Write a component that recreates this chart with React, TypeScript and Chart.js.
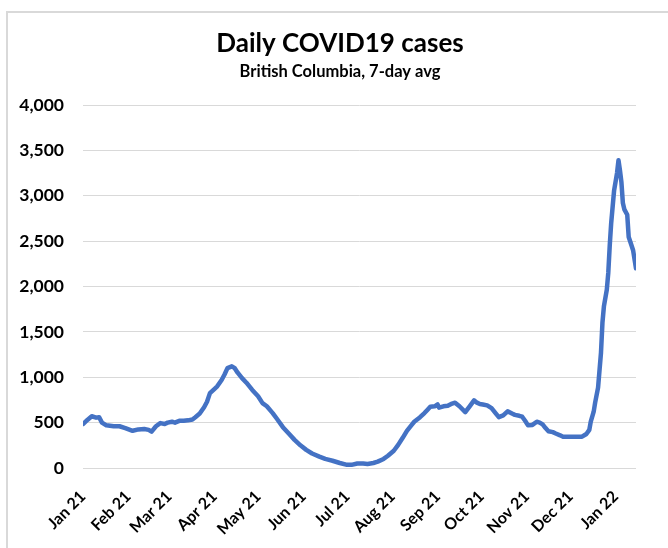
import React, { useEffect, useRef } from "react";
import { Chart, registerables } from "chart.js";

Chart.register(...registerables);

const TITLE = "Daily COVID19 cases";
const SUBTITLE = "British Columbia, 7-day avg";

// day index (0 = 1 Jan 2021)
const dayIndex = [
  0, 3, 6, 9, 11, 13, 16, 21, 25, 29, 34, 38, 42, 45, 47, 50, 53, 56, 58, 61, 63, 66, 69, 72, 75, 77, 80, 83, 85, 87,
  90, 92, 95, 97, 99, 102, 104, 106, 109, 112, 116, 120, 123, 126, 130, 133, 137, 141, 145, 149, 153, 157, 162, 166,
  171, 176, 181, 184, 188, 192, 195, 199, 202, 206, 209, 213, 216, 219, 222, 225, 227, 231, 234, 236, 238, 241, 243,
  244, 247, 250, 253, 255, 258, 262, 265, 268, 270, 272, 274, 277, 280, 283, 285, 288, 291, 294, 296, 299, 301, 303,
  305, 308, 311, 313, 315, 317, 319, 322, 324, 327, 329, 335, 342, 345, 347, 348, 350, 351, 353, 355, 356, 357, 359,
  360, 361, 362, 364, 366, 367, 368, 369, 370, 371, 373, 374, 376, 377, 379,
];

const dailyCases = [
  485, 530, 570, 555, 560, 500, 470, 460, 460, 440, 410, 425, 430, 420, 400, 460, 495, 485, 500, 510, 500, 520, 520,
  525, 535, 560, 600, 670, 730, 825, 870, 900, 970, 1030, 1100, 1120, 1100, 1050, 990, 940, 860, 790, 715, 680, 605,
  540, 450, 380, 310, 250, 200, 160, 125, 100, 80, 55, 35, 35, 50, 50, 45, 55, 70, 100, 135, 190, 255, 330, 410, 470,
  510, 560, 605, 640, 675, 680, 700, 665, 680, 685, 710, 720, 680, 615, 680, 745, 720, 705, 700, 690, 660, 600, 560,
  580, 625, 600, 585, 575, 565, 520, 470, 475, 510, 500, 480, 440, 405, 395, 380, 360, 345, 345, 345, 375, 420, 510,
  620, 720, 885, 1270, 1600, 1780, 1965, 2150, 2450, 2700, 3060, 3250, 3390, 3280, 3150, 2920, 2850, 2790, 2545, 2450,
  2400, 2200,
];

const monthDays = [0, 31, 59, 90, 120, 151, 181, 212, 243, 273, 304, 334, 365];
const monthLabels = [
  "Jan 21", "Feb 21", "Mar 21", "Apr 21", "May 21", "Jun 21", "Jul 21",
  "Aug 21", "Sep 21", "Oct 21", "Nov 21", "Dec 21", "Jan 22",
];

const FONT = "Lato, 'Open Sans', sans-serif";

export default function App() {
  const ref = useRef<HTMLCanvasElement | null>(null);

  useEffect(() => {
    if (!ref.current) return;
    const decor = {
      id: "decor",
      beforeDraw(chart: any) {
        const ctx = chart.ctx;
        ctx.save();
        ctx.fillStyle = "#ffffff";
        ctx.fillRect(0, 0, chart.width, chart.height);
        ctx.strokeStyle = "#d9d9d9";
        ctx.lineWidth = 2;
        ctx.strokeRect(7, 12, 720, 620);
        ctx.restore();
      },
      afterDraw(chart: any) {
        const ctx = chart.ctx;
        ctx.save();
        ctx.fillStyle = "#000";
        ctx.textAlign = "center";
        ctx.textBaseline = "alphabetic";
        ctx.font = `bold 26px ${FONT}`;
        ctx.fillText(TITLE, 340, 52);
        ctx.font = `bold 16.5px ${FONT}`;
        ctx.fillText(SUBTITLE, 340, 77);
        ctx.restore();
      },
    };

    const chart = new Chart(ref.current, {
      type: "line",
      data: {
        datasets: [
          {
            label: "Daily cases",
            data: dayIndex.map((d, i) => ({ x: d, y: dailyCases[i] })),
            borderColor: "#4472C4",
            borderWidth: 4.5,
            pointRadius: 0,
            tension: 0,
            borderJoinStyle: "round",
            borderCapStyle: "round",
            fill: false,
          },
        ],
      },
      options: {
        animation: false,
        responsive: false,
        layout: { padding: { left: 0, right: 32, top: 105, bottom: 0 } },
        plugins: { legend: { display: false }, title: { display: false }, tooltip: { enabled: false } },
        scales: {
          x: {
            type: "linear",
            min: 0,
            max: 379,
            afterBuildTicks(scale: any) {
              scale.ticks = monthDays.map((v) => ({ value: v }));
            },
            afterFit(scale: any) {
              scale.height = 80;
            },
            grid: { display: false },
            border: { display: false },
            ticks: {
              autoSkip: false,
              minRotation: 45,
              maxRotation: 45,
              padding: 11,
              color: "#000",
              font: { family: FONT, size: 16, weight: "bold" },
              callback: (_v: any, i: number) => monthLabels[i],
            },
          },
          y: {
            min: 0,
            max: 4000,
            afterFit(scale: any) {
              scale.width = 83;
            },
            grid: { color: "#d9d9d9", lineWidth: 1, drawTicks: false },
            border: { display: false },
            ticks: {
              stepSize: 500,
              padding: 19,
              color: "#000",
              font: { family: FONT, size: 17.5, weight: "bold" },
              callback: (v: any) => Number(v).toLocaleString("en-US"),
            },
          },
        },
      },
      plugins: [decor],
    });
    return () => chart.destroy();
  }, []);

  return (
    <div style={{ position: "absolute", left: 0, top: 0, width: 668, height: 548 }}>
      <canvas ref={ref} width={668} height={548} style={{ width: 668, height: 548, display: "block" }} />
    </div>
  );
}
